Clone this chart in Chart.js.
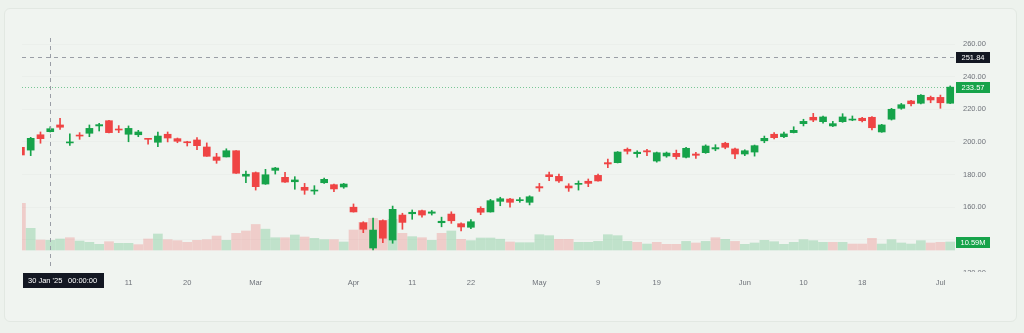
<!DOCTYPE html>
<html>
<head>
<meta charset="utf-8">
<script src="https://cdn.jsdelivr.net/npm/chart.js@4.4.1/dist/chart.umd.min.js"></script>
<style>
  html, body { margin: 0; padding: 0; background: #edf2ed; }
  .card { position: absolute; left: 4px; top: 8px; width: 1011px; height: 312px;
          background: #f0f4f0; border: 1px solid #e2e8e2; border-radius: 6px; }
  canvas { position: absolute; left: 0; top: 0; }
</style>
</head>
<body>
<div class="card"></div>
<canvas id="chart" width="1024" height="333"></canvas>
<script>
// daily candles, Jan 27 '25 -> Jul 2 '25 (index = trading day)
const opens = [196.7,195.0,204.4,206.3,210.4,199.4,204.0,205.3,209.8,213.0,207.9,204.7,204.4,202.0,199.8,204.7,202.0,200.1,201.2,196.9,
  190.8,190.8,194.6,179.0,181.2,174.2,182.6,178.3,175.6,172.2,169.9,175.0,173.8,172.4,160.0,150.5,135.0,151.8,139.9,155.2,
  156.0,157.9,156.3,150.5,155.8,149.9,147.7,159.3,157.1,163.6,165.0,164.0,163.0,172.6,179.9,178.9,173.0,174.0,175.9,179.5,
  187.3,187.3,195.5,192.8,194.6,188.3,191.4,193.0,190.6,192.6,193.4,195.7,199.2,195.7,192.6,193.8,200.7,204.7,203.2,205.7,
  211.2,215.1,212.4,209.8,212.4,213.4,214.5,215.1,206.1,213.9,220.6,225.1,223.7,227.3,227.3,223.7];
const highs = [197.2,202.8,206.1,209.3,214.5,204.9,205.7,210.4,211.4,213.3,210.0,209.8,207.1,202.2,206.1,206.1,202.4,200.4,202.6,199.4,
  193.0,195.8,194.7,182.2,181.6,183.2,184.4,181.4,178.7,174.6,173.2,177.9,174.2,174.6,162.0,151.1,153.4,152.2,160.7,156.3,
  158.3,158.3,158.0,153.9,157.2,150.5,152.4,160.3,164.8,166.1,165.5,165.9,167.0,174.6,181.6,180.3,174.4,176.1,177.3,180.3,
  189.5,194.1,196.3,194.6,195.5,193.8,193.8,195.0,196.7,193.6,198.2,198.3,199.8,196.3,195.2,198.1,203.6,205.7,206.1,209.3,
  213.9,217.5,215.9,212.6,217.3,215.9,215.1,215.5,210.8,220.6,223.6,225.5,229.0,228.1,228.7,234.3];
const lows = [191.5,191.6,199.2,206.1,207.7,197.9,201.6,203.2,206.7,205.5,205.7,200.1,203.2,198.7,197.1,200.0,199.5,197.5,195.2,191.2,
  186.9,190.8,180.7,175.0,170.5,174.0,180.3,175.2,171.0,167.9,167.9,174.6,169.5,171.6,157.0,144.4,133.8,138.2,137.9,146.5,
  152.6,153.9,155.2,148.0,150.1,145.4,146.9,155.4,157.0,160.9,160.0,163.0,161.4,169.7,176.2,175.2,169.7,170.5,172.6,175.9,
  184.2,187.1,192.6,190.6,191.6,187.6,190.6,189.5,190.2,189.9,193.0,194.6,195.8,189.7,191.6,191.3,199.5,201.8,202.6,205.5,
  209.8,212.4,211.5,209.4,212.0,213.0,212.2,207.3,205.9,213.4,220.0,222.0,223.3,224.0,220.6,223.5];
const closes = [192.0,202.2,202.0,208.1,209.0,199.8,203.6,208.3,210.6,205.7,207.3,208.3,206.1,201.6,203.6,202.4,200.4,199.5,197.7,191.2,
  188.7,194.6,180.8,180.2,172.6,179.9,184.0,175.4,176.7,170.4,170.5,177.1,171.2,174.2,157.1,146.5,146.0,141.0,158.7,150.7,
  156.9,155.2,157.1,151.4,151.7,147.9,151.1,156.9,164.0,165.2,163.0,164.6,166.4,171.8,178.7,176.1,171.8,174.4,174.6,176.1,
  186.5,193.8,194.3,193.7,193.9,193.4,193.2,191.0,196.1,191.8,197.5,196.5,196.7,192.6,194.6,197.7,202.2,202.6,204.9,207.1,
  212.6,213.4,215.3,211.2,215.3,213.9,213.0,208.7,210.4,220.0,222.8,223.4,228.6,225.7,224.0,233.57];
// volume in millions
const volumes = [61.8,28.7,13.2,12.8,14.6,16.3,11.9,10.2,7.5,11.0,8.8,8.8,7.1,14.6,21.2,13.7,12.4,10.2,12.8,13.7,
  18.5,12.8,22.1,25.2,33.8,27.6,16.3,16.3,19.9,17.2,15.5,13.7,13.7,10.6,26.5,36.6,41.9,39.3,40.6,22.1,
  17.7,16.3,12.8,22.1,25.2,14.1,12.4,15.9,15.9,14.3,10.6,9.7,9.7,20.3,19.0,14.1,14.1,10.2,10.2,11.4,
  20.3,19.0,11.4,10.2,7.9,10.2,7.5,7.5,11.4,9.3,11.4,16.3,14.1,11.4,7.5,9.3,12.8,11.0,7.5,10.2,
  13.7,12.4,10.2,10.2,10.2,7.9,7.9,15.5,7.9,13.7,9.3,7.9,12.4,9.3,10.2,10.59];

const tickDays = [11, 17, 24, 34, 40, 46, 53, 59, 65, 74, 80, 86, 94];
const tickText = ["11", "20", "Mar", "Apr", "11", "22", "May", "9", "19", "Jun", "10", "18", "Jul"];
const priceTicks = [140, 160, 180, 200, 220, 240, 260];
const hiddenTick = 120;      // drawn half-covered by the time axis

const crossDay = 3;          // 30 Jan '25
const crossPrice = 251.84;
const crossLabel = ["30 Jan '25", "00:00:00"];

const UP = "#16a34a", DOWN = "#ef4444";
const UP_VOL = "rgba(22,163,74,0.22)", DOWN_VOL = "rgba(239,68,68,0.22)";
const FONT = "'Liberation Sans', Arial, sans-serif";
const TEXT = "#6f737a";

const candleCol = opens.map((o, i) => closes[i] >= o ? UP : DOWN);
const volCol = closes.map((c, i) => (i === 0 ? c < opens[0] : c < closes[i - 1]) ? DOWN_VOL : UP_VOL);

const overlay = {
  id: "overlay",
  beforeDatasetsDraw(chart) {
    const { ctx, chartArea: a, scales: { y } } = chart;
    const py = Math.round(y.getPixelForValue(closes[closes.length - 1])) + 0.5;
    ctx.save();
    ctx.strokeStyle = "rgba(22,163,74,0.55)";
    ctx.setLineDash([1, 2]);
    ctx.lineWidth = 1;
    ctx.beginPath(); ctx.moveTo(a.left, py); ctx.lineTo(a.right, py); ctx.stroke();
    ctx.restore();
  },
  afterDraw(chart) {
    const { ctx, chartArea: a, scales: { x, y, v } } = chart;
    ctx.save();
    // crosshair
    const cx = Math.round(x.getPixelForValue(crossDay)) + 0.5;
    const cy = Math.round(y.getPixelForValue(crossPrice)) + 0.5;
    ctx.strokeStyle = "#9a9ea6";
    ctx.lineWidth = 1;
    ctx.setLineDash([4, 4]);
    ctx.beginPath(); ctx.moveTo(cx, a.top); ctx.lineTo(cx, a.bottom); ctx.stroke();
    ctx.beginPath(); ctx.moveTo(a.left, cy); ctx.lineTo(a.right, cy); ctx.stroke();
    ctx.setLineDash([]);

    ctx.font = "7.5px " + FONT;
    ctx.textBaseline = "middle";

    // half-visible lowest price label
    ctx.save();
    ctx.beginPath(); ctx.rect(a.right, a.bottom - 10, 60, 14); ctx.clip();
    ctx.fillStyle = TEXT;
    ctx.textAlign = "left";
    ctx.fillText(hiddenTick.toFixed(2), a.right + 8, y.getPixelForValue(hiddenTick));
    ctx.restore();

    const box = (txt, yc, bg) => {
      ctx.fillStyle = bg;
      ctx.fillRect(a.right + 1, Math.round(yc - 5.5), 34, 11);
      ctx.fillStyle = "#ffffff";
      ctx.textAlign = "center";
      ctx.fillText(txt, a.right + 18, yc + 0.5);
    };
    box(crossPrice.toFixed(2), y.getPixelForValue(crossPrice), "#131722");
    box(closes[closes.length - 1].toFixed(2), y.getPixelForValue(closes[closes.length - 1]), UP);
    const lastVol = volumes[volumes.length - 1];
    box(lastVol.toFixed(2) + "M", v.getPixelForValue(lastVol), UP);

    // time label of crosshair
    ctx.fillStyle = "#131722";
    ctx.fillRect(a.left + 1, a.bottom + 5, 81, 15);
    ctx.fillStyle = "#ffffff";
    ctx.textAlign = "left";
    ctx.fillText(crossLabel[0], a.left + 6, a.bottom + 13);
    ctx.fillText(crossLabel[1], a.left + 46, a.bottom + 13);
    ctx.restore();
  }
};

const pts = arr => arr.map((val, i) => ({ x: i, y: val }));

new Chart(document.getElementById("chart"), {
  type: "bar",
  data: {
    datasets: [
      {
        label: "body",
        data: opens.map((o, i) => ({ x: i, y: [o, closes[i]] })),
        backgroundColor: candleCol,
        barThickness: 7,
        minBarLength: 1,
        grouped: false,
        order: 1,
        yAxisID: "y"
      },
      {
        label: "wick",
        data: lows.map((l, i) => ({ x: i, y: [l, highs[i]] })),
        backgroundColor: candleCol,
        barThickness: 1,
        grouped: false,
        order: 2,
        yAxisID: "y"
      },
      {
        label: "volume",
        data: pts(volumes),
        backgroundColor: volCol,
        barThickness: 9,
        grouped: false,
        order: 3,
        yAxisID: "v"
      }
    ]
  },
  options: {
    responsive: false,
    animation: false,
    events: [],
    layout: { padding: { left: 22, top: 38, right: 0, bottom: 0 } },
    plugins: { legend: { display: false }, tooltip: { enabled: false } },
    scales: {
      x: {
        type: "linear",
        offset: false,
        min: 0.11,
        max: 95.49,
        grid: { display: false, drawTicks: false },
        border: { display: false },
        afterBuildTicks: s => { s.ticks = tickDays.map(d => ({ value: d })); },
        afterFit: s => { s.height = 65; },
        ticks: {
          autoSkip: false,
          maxRotation: 0,
          padding: 10,
          color: TEXT,
          font: { family: FONT, size: 7.5 },
          callback: val => tickText[tickDays.indexOf(val)]
        }
      },
      y: {
        position: "right",
        min: 122.75,
        max: 263.68,
        grid: { color: "rgba(40,60,40,0.025)", drawTicks: false },
        border: { display: false },
        afterBuildTicks: s => { s.ticks = priceTicks.map(p => ({ value: p })); },
        afterFit: s => { s.width = 69; },
        ticks: {
          padding: 8,
          color: TEXT,
          font: { family: FONT, size: 7.5 },
          callback: val => val.toFixed(2)
        }
      },
      v: {
        display: false,
        min: -23.84,
        max: 280.8
      }
    }
  },
  plugins: [overlay]
});
</script>
</body>
</html>
